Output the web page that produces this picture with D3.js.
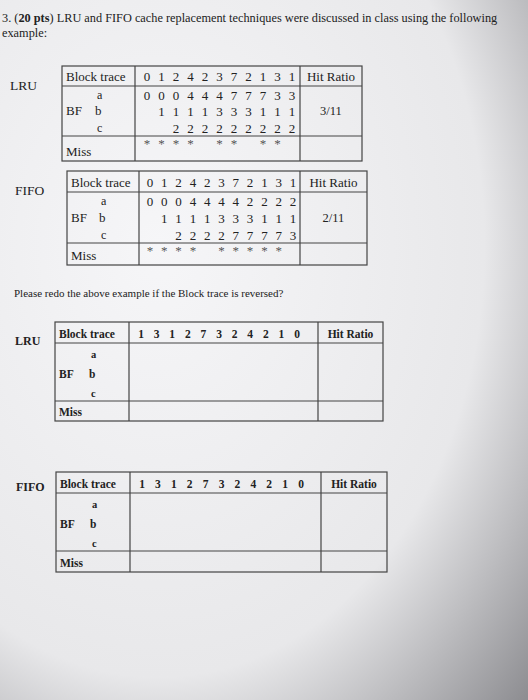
<!DOCTYPE html><html><head><meta charset="utf-8">
<script src="https://cdn.jsdelivr.net/npm/d3@7"></script>
<style>body{margin:0;background:#e6e6e8}</style></head><body>
<svg id="s" width="528" height="700"></svg>
<script>
const trace = [0,1,2,4,2,3,7,2,1,3,1];
const traceRev = [1,3,1,2,7,3,2,4,2,1,0];
const lruA = [0,0,0,4,4,4,7,7,7,3,3];
const lruB = [null,1,1,1,1,3,3,3,1,1,1];
const lruC = [null,null,2,2,2,2,2,2,2,2,2];
const lruMiss = [1,1,1,1,0,1,1,0,1,1,0];
const fifoA = [0,0,0,4,4,4,4,2,2,2,2];
const fifoB = [null,1,1,1,1,3,3,3,1,1,1];
const fifoC = [null,null,2,2,2,2,7,7,7,7,3];
const fifoMiss = [1,1,1,1,0,1,1,1,1,1,0];
const hitRatios = ["3/11","2/11"];

const svg = d3.select("#s");
const defs = svg.append("defs");
const g = defs.append("radialGradient").attr("id","bg").attr("cx","30%").attr("cy","35%").attr("r","95%");
g.append("stop").attr("offset","0%").attr("stop-color","#f6f6f8");
g.append("stop").attr("offset","65%").attr("stop-color","#e8e8ea");
g.append("stop").attr("offset","100%").attr("stop-color","#8e8e92");
svg.append("rect").attr("width",528).attr("height",700).attr("fill","url(#bg)");
const F = "Liberation Serif, serif", ink = "#222";
function txt(x,y,t,o={}){return svg.append("text").attr("x",x).attr("y",y).text(t).attr("font-family",F)
 .attr("font-size",o.size||12).attr("font-weight",o.bold?"bold":"normal").attr("fill",o.fill||ink).attr("text-anchor",o.anchor||"start");}
const t1 = txt(2,22,"",{size:12.3});
t1.append("tspan").text("3. (");t1.append("tspan").attr("font-weight","bold").text("20 pts");
t1.append("tspan").text(") LRU and FIFO cache replacement techniques were discussed in class using the following");
txt(2,37,"example:",{size:12.3});
txt(14,297,"Please redo the above example if the Block trace is reversed?",{size:11});

function table(o){
  const {x0,x1,c1,c2,y0,y1,y2,y3} = o;
  const L = svg.append("g").attr("stroke","#444").attr("stroke-width",1.2).attr("fill","none");
  L.append("rect").attr("x",x0).attr("y",y0).attr("width",x1-x0).attr("height",y3-y0);
  [y1,y2].forEach(y=>L.append("line").attr("x1",x0).attr("x2",x1).attr("y1",y).attr("y2",y));
  [c1,c2].forEach(c=>L.append("line").attr("x1",c).attr("x2",c).attr("y1",y0).attr("y2",y3));
  const b=o.bold, fs=o.fs;
  txt(o.lx,o.ly,o.label,{size:fs+0.5,bold:b});
  txt(x0+4,y1-5,"Block trace",{size:fs,bold:b});
  txt(c2+(x1-c2)/2,y1-5,"Hit Ratio",{size:fs,bold:b,anchor:"middle"});
  const rh=(y2-y1)/3;
  txt(c1-38,y1+rh-4,"a",{size:fs-1,bold:b});
  txt(x0+4,y1+2*rh-4,"BF",{size:fs,bold:b});txt(c1-40,y1+2*rh-4,"b",{size:fs,bold:b});
  txt(c1-38,y1+3*rh-4,"c",{size:fs-1,bold:b});
  txt(x0+4,y3-5,"Miss",{size:fs,bold:b});
  const xs = d3.scalePoint().domain(d3.range(11)).range([o.d0,o.d1]);
  o.trace.forEach((v,i)=>txt(xs(i),y1-5,v,{size:fs,bold:b,anchor:"middle"}));
  if(o.rows){
    o.rows.forEach((r,k)=>r.forEach((v,i)=>{if(v!==null)txt(xs(i),y1+(k+1)*rh-3,v,{size:fs,anchor:"middle"});}));
    o.miss.forEach((m,i)=>{if(m)txt(xs(i),y2+12,"*",{size:13,anchor:"middle",fill:"#555"});});
    txt(c2+(x1-c2)/2,y1+2*rh-4,o.hr,{size:fs-0.5,anchor:"middle"});
  }
}
table({x0:62,x1:362,c1:135,c2:300,y0:66,y1:86,y2:136,y3:161,label:"LRU",lx:10,ly:90,fs:13,
  trace,d0:147,d1:292,rows:[lruA,lruB,lruC],miss:lruMiss,hr:hitRatios[0]});
table({x0:67,x1:367,c1:139,c2:300,y0:171,y1:192,y2:243,y3:265,label:"FIFO",lx:15,ly:195,fs:13,
  trace,d0:150,d1:293,rows:[fifoA,fifoB,fifoC],miss:fifoMiss,hr:hitRatios[1]});
table({x0:55,x1:383,c1:129,c2:318,y0:322,y1:343,y2:401,y3:421,label:"LRU",lx:15,ly:345,fs:11.5,bold:true,
  trace:traceRev,d0:141,d1:297});
table({x0:56,x1:387,c1:130,c2:321,y0:472,y1:493,y2:551,y3:572,label:"FIFO",lx:16,ly:491,fs:11.5,bold:true,
  trace:traceRev,d0:142,d1:301});
</script></body></html>
